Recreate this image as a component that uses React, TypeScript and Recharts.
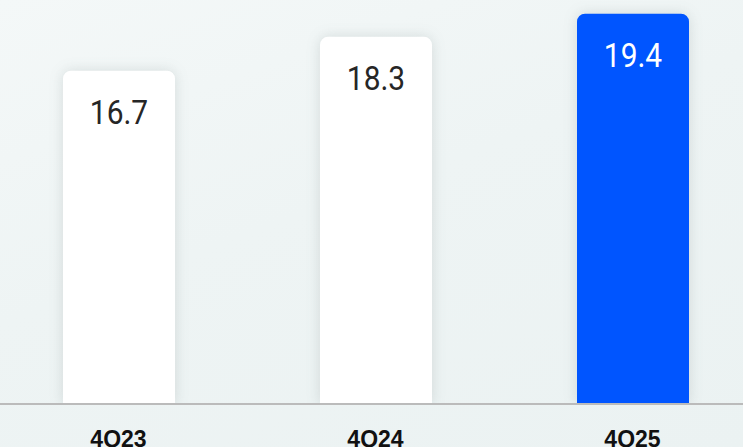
import React from 'react';
import { BarChart, Bar, XAxis, YAxis, LabelList, Rectangle } from 'recharts';

const quarters = ['4Q23', '4Q24', '4Q25'];
const values = [16.7, 18.3, 19.4];
const highlight = [false, false, true];

const data = quarters.map((q, i) => ({ quarter: q, value: values[i], hl: highlight[i] }));

const BLUE = '#0055FF';

const BarShape = (props: any) => {
  const { payload } = props;
  return (
    <Rectangle
      {...props}
      fill={payload.hl ? BLUE : '#ffffff'}
      radius={[8, 8, 0, 0]}
      style={{ filter: 'drop-shadow(0px 0px 7px rgba(60,80,80,0.16))' }}
    />
  );
};

// values drawn a bit narrower, the original uses a condensed face
const ValueLabel = (props: any) => {
  const { x, y, width, value, index } = props;
  return (
    <text
      transform={`translate(${x + width / 2},${y + 53}) scale(0.88,1)`}
      textAnchor="middle"
      fill={highlight[index] ? '#ffffff' : '#262626'}
      fontFamily="Roboto, sans-serif"
      fontSize={34}
    >
      {value}
    </text>
  );
};

const App = () => {
  return (
    <div
      style={{
        position: 'fixed',
        top: 0,
        left: 0,
        width: 743,
        height: 447,
        overflow: 'hidden',
        background: 'linear-gradient(160deg, #f4f8f8 0%, #eef4f4 45%, #ebf2f2 100%)',
      }}
    >
      <BarChart
        width={743}
        height={447}
        data={data}
        margin={{ top: 1, right: -18, left: -10, bottom: 0 }}
      >
        <XAxis
          dataKey="quarter"
          height={43}
          tickLine={false}
          tickSize={0}
          tickMargin={27}
          axisLine={{ stroke: '#bbbbbb', strokeWidth: 2 }}
          tick={{ fill: '#111111', fontSize: 23, fontWeight: 700, fontFamily: 'Liberation Sans, Arial, sans-serif' }}
        />
        <YAxis hide domain={[0.9, 20]} allowDataOverflow />
        <Bar dataKey="value" barSize={112} shape={BarShape} isAnimationActive={false}>
          <LabelList dataKey="value" content={ValueLabel} />
        </Bar>
      </BarChart>
    </div>
  );
};

export default App;
